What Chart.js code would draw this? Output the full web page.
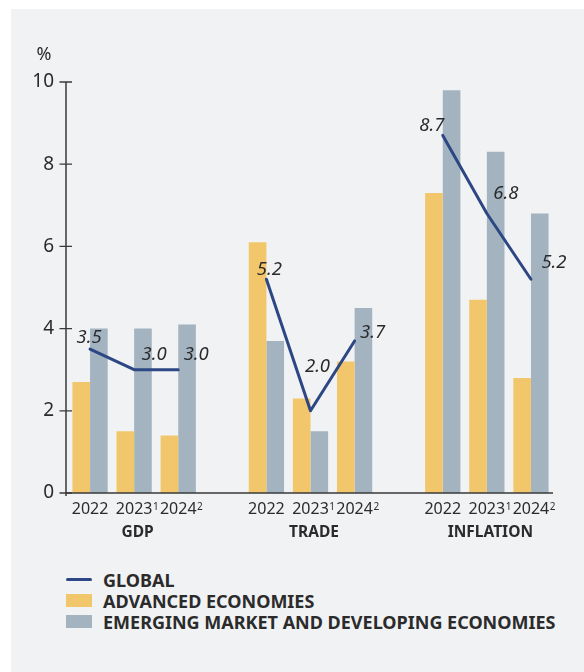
<!DOCTYPE html>
<html>
<head>
<meta charset="utf-8">
<script src="https://cdn.jsdelivr.net/npm/chart.js@4.4.1/dist/chart.umd.min.js"></script>
<style>
  html, body { margin: 0; padding: 0; background: #ffffff; }
  body { width: 584px; height: 672px; position: relative; overflow: hidden; font-family: "Noto Sans", "Open Sans", sans-serif; }
  #panel { position: absolute; left: 11px; top: 9px; width: 573px; height: 663px; background: #f1f2f4; }
  #chart { position: absolute; left: 0; top: 0; }
  #legend { position: absolute; left: 55px; top: 560px; }
  .item { position: relative; height: 21px; display: flex; align-items: center; }
  .swatch { width: 26px; height: 13px; margin-right: 11px; }
  .line { width: 26px; height: 3px; margin: 5px 11px 5px 0; border-radius: 1.5px; }
  .text { font-size: 18px; font-weight: 700; color: #2b2b2b; white-space: nowrap; }
</style>
</head>
<body>
<div id="panel">
  <canvas id="chart" width="573" height="541"></canvas>
  <div id="legend"></div>
</div>
<script>
// Category slots: three years per indicator, with an empty slot between indicators
const categories = ['2022', '2023', '2024', '', '2022', '2023', '2024', '', '2022', '2023', '2024'];
const footnoteMarks = ['', '1', '2', '', '', '1', '2', '', '', '1', '2'];
const groupNames = ['GDP', 'TRADE', 'INFLATION'];
const yTicks = [0, 2, 4, 6, 8, 10];

// Growth / inflation, %
const globalValues   = [3.5, 3.0, 3.0, null, 5.2, 2.0, 3.7, null, 8.7, 6.8, 5.2];
const advancedValues = [2.7, 1.5, 1.4, null, 6.1, 2.3, 3.2, null, 7.3, 4.7, 2.8];
const emergingValues = [4.0, 4.0, 4.1, null, 3.7, 1.5, 4.5, null, 9.8, 8.3, 6.8];

const seriesNames = ['GLOBAL', 'ADVANCED ECONOMIES', 'EMERGING MARKET AND DEVELOPING ECONOMIES'];

const COLORS = { global: '#2c4784', advanced: '#f2c76b', emerging: '#a3b4c0', ink: '#2b2b2b', axis: '#3a3a3a' };
const FONT = '"Noto Sans", "Open Sans", sans-serif';
const TICK_SIZE = 16;
const TICK_FONT = TICK_SIZE + 'px ' + FONT;
const MARK_FONT = '10px ' + FONT;
const GROUP_FONT = 'bold 15.5px ' + FONT;

// Where each value label sits relative to its point on the global line
const labelShift = [[-1, -11], [20, -15], [18, -15], null, [3, -10], [7, -44], [18, -8], null, [-11, -10], [19, -20], [23, -17]];

const decorations = {
  id: 'decorations',
  afterDatasetsDraw(chart) {
    const ctx = chart.ctx;
    const area = chart.chartArea;
    const xs = chart.scales.x;
    const ys = chart.scales.y;
    const axisX = area.left - 2;
    ctx.save();

    // axes
    ctx.strokeStyle = COLORS.axis;
    ctx.lineWidth = 1.5;
    ctx.beginPath();
    ctx.moveTo(axisX, ys.getPixelForValue(10));
    ctx.lineTo(axisX, ys.getPixelForValue(0) + 3);
    ctx.moveTo(axisX, ys.getPixelForValue(0));
    ctx.lineTo(area.right, ys.getPixelForValue(0));
    ctx.stroke();

    // tick marks crossing the value axis
    ctx.lineWidth = 1.3;
    ctx.beginPath();
    yTicks.forEach(v => {
      const py = ys.getPixelForValue(v);
      ctx.moveTo(axisX - 6.5, py);
      ctx.lineTo(axisX + 6, py);
    });
    ctx.stroke();

    // unit
    ctx.fillStyle = COLORS.ink;
    ctx.font = '18px ' + FONT;
    ctx.textAlign = 'right';
    ctx.textBaseline = 'middle';
    ctx.fillText('%', 40.5, ys.getPixelForValue(10) - 27);

    // footnote marks after the forecast years
    const tickMid = area.bottom + 7 + TICK_SIZE * 0.6;
    ctx.textAlign = 'left';
    footnoteMarks.forEach((m, i) => {
      if (!m) return;
      ctx.font = TICK_FONT;
      const w = ctx.measureText(categories[i]).width;
      ctx.font = MARK_FONT;
      ctx.fillText(m, xs.getPixelForValue(i) + w / 2 + 0.5, tickMid - 2.5);
    });

    // indicator names under each group of years
    ctx.textAlign = 'center';
    groupNames.forEach((name, g) => {
      const first = g * 4, last = g * 4 + 2;
      ctx.font = TICK_FONT;
      const left = xs.getPixelForValue(first) - ctx.measureText(categories[first]).width / 2;
      const right = xs.getPixelForValue(last) + ctx.measureText(categories[last]).width / 2 + 7;
      ctx.font = GROUP_FONT;
      ctx.fillText(name, (left + right) / 2, 523.5);
    });

    // value labels on the global line
    const meta = chart.getDatasetMeta(0);
    ctx.font = 'italic 18.5px ' + FONT;
    ctx.textAlign = 'center';
    ctx.textBaseline = 'middle';
    meta.data.forEach((pt, i) => {
      const v = globalValues[i];
      if (v === null || !labelShift[i]) return;
      ctx.fillText(v.toFixed(1), pt.x + labelShift[i][0], pt.y + labelShift[i][1]);
    });
    ctx.restore();
  }
};

const chart = new Chart(document.getElementById('chart'), {
  data: {
    labels: categories,
    datasets: [
      {
        type: 'line', label: seriesNames[0], data: globalValues,
        borderColor: COLORS.global, backgroundColor: COLORS.global,
        borderWidth: 3, pointRadius: 0, spanGaps: false, tension: 0,
        borderCapStyle: 'round', borderJoinStyle: 'round', order: 0
      },
      {
        type: 'bar', label: seriesNames[1], data: advancedValues,
        backgroundColor: COLORS.advanced, categoryPercentage: 0.8, barPercentage: 1.0, order: 1
      },
      {
        type: 'bar', label: seriesNames[2], data: emergingValues,
        backgroundColor: COLORS.emerging, categoryPercentage: 0.8, barPercentage: 1.0, order: 1
      }
    ]
  },
  options: {
    responsive: false,
    devicePixelRatio: 1,
    animation: false,
    layout: { padding: { top: 73, right: 31, bottom: 0, left: 0 } },
    plugins: { legend: { display: false }, tooltip: { enabled: false } },
    scales: {
      x: {
        type: 'category',
        grid: { display: false, drawTicks: false },
        border: { display: false },
        ticks: { color: COLORS.ink, font: { family: FONT, size: TICK_SIZE }, padding: 7, maxRotation: 0, autoSkip: false },
        afterFit(s) { s.height = 57; }
      },
      y: {
        min: 0, max: 10,
        grid: { display: false, drawTicks: false },
        border: { display: false },
        ticks: { stepSize: 2, color: COLORS.ink, font: { family: FONT, size: 19 }, padding: 14 },
        afterFit(s) { s.width = 57; }
      }
    }
  },
  plugins: [decorations]
});

// legend built from the datasets
const legend = document.getElementById('legend');
chart.data.datasets.forEach(ds => {
  const row = document.createElement('div');
  row.className = 'item';
  const mark = document.createElement('div');
  mark.className = ds.type === 'line' ? 'line' : 'swatch';
  mark.style.background = ds.type === 'line' ? ds.borderColor : ds.backgroundColor;
  const txt = document.createElement('div');
  txt.className = 'text';
  txt.textContent = ds.label;
  row.appendChild(mark);
  row.appendChild(txt);
  legend.appendChild(row);
});
</script>
</body>
</html>
